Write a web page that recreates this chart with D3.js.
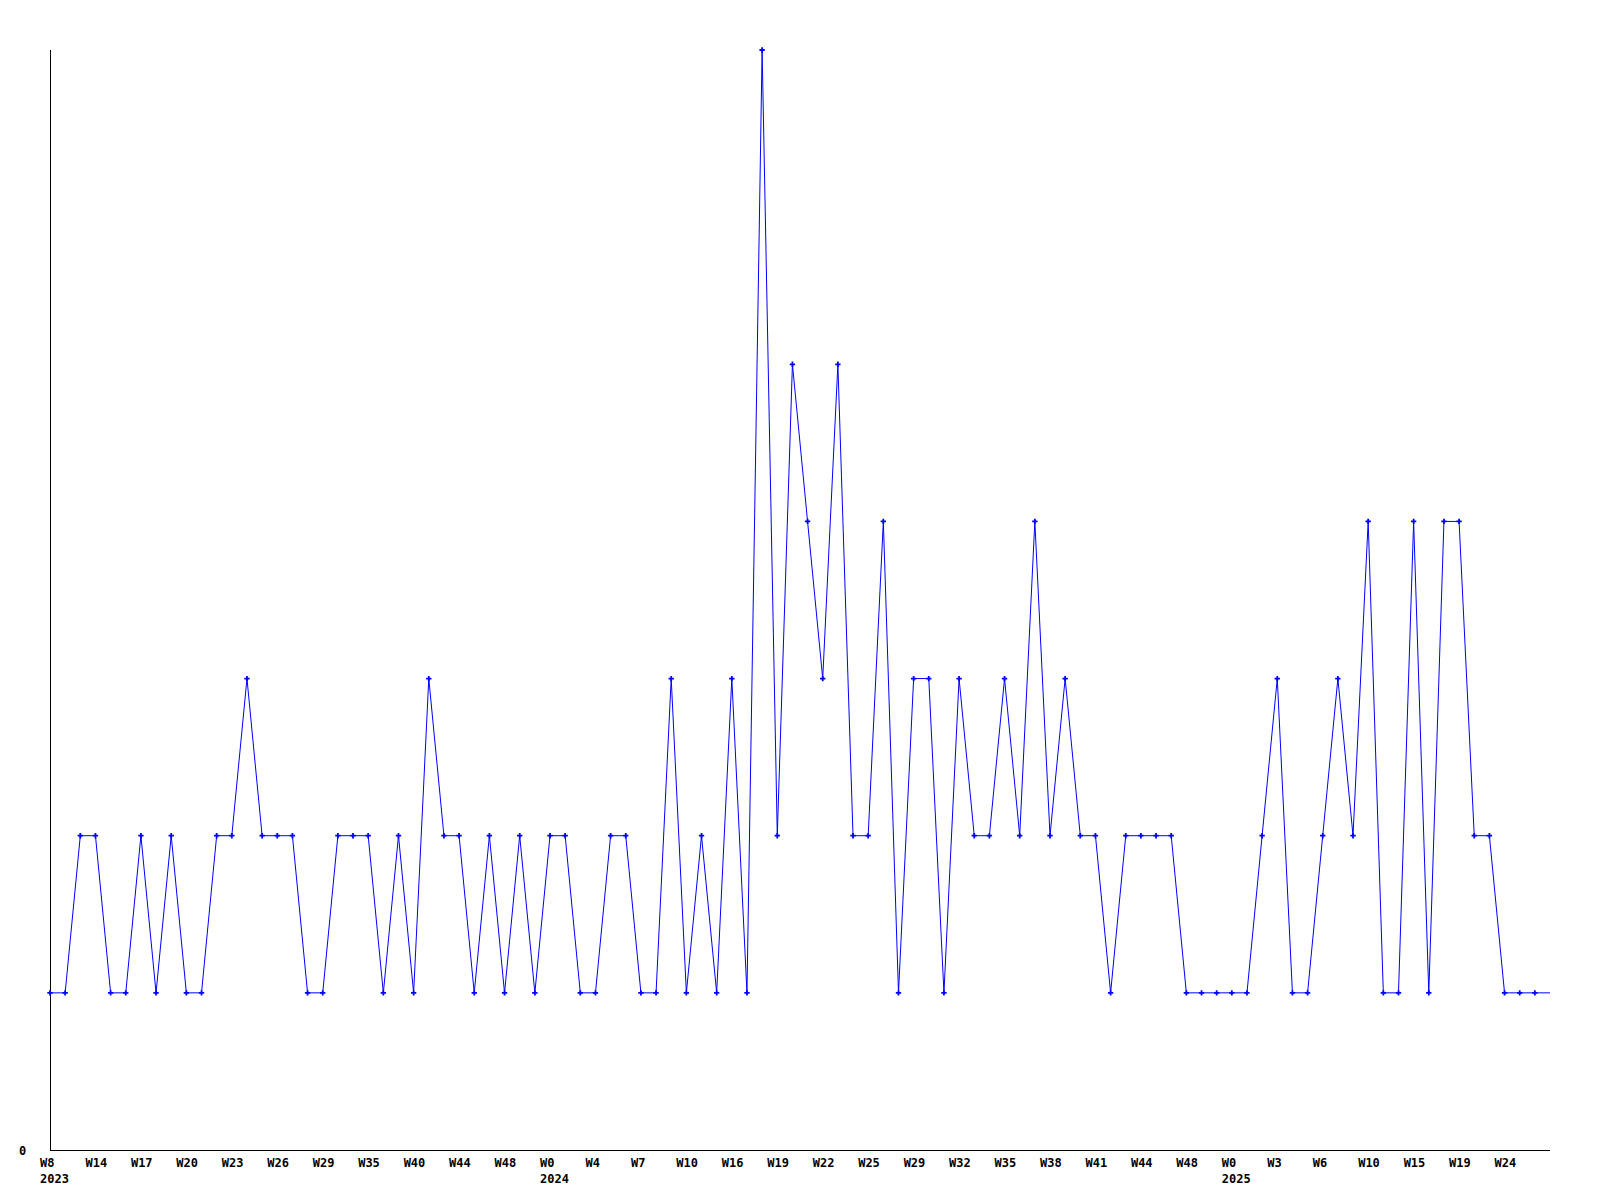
<!DOCTYPE html>
<html lang="en">

<head>
    <meta charset="UTF-8">
    <script src="https://d3js.org/d3.v7.min.js"></script>
    <title>weekly_line</title>
    <style>
        body { margin: 0; background: #fff; }
        text { font-family: "DejaVu Sans Mono", monospace; font-weight: bold; font-size: 12px; fill: #000; }
    </style>
</head>

<body>
    <script>
        var w = 1600,
            h = 1200;

        // one value per week (100 points)
        var values = [1, 1, 2, 2, 1, 1, 2, 1, 2, 1,
            1, 2, 2, 3, 2, 2, 2, 1, 1, 2,
            2, 2, 1, 2, 1, 3, 2, 2, 1, 2,
            1, 2, 1, 2, 2, 1, 1, 2, 2, 1,
            1, 3, 1, 2, 1, 3, 1, 7, 2, 5,
            4, 3, 5, 2, 2, 4, 1, 3, 3, 1,
            3, 2, 2, 3, 2, 4, 2, 3, 2, 2,
            1, 2, 2, 2, 2, 1, 1, 1, 1, 1,
            2, 3, 1, 1, 2, 3, 2, 4, 1, 1,
            4, 1, 4, 4, 2, 2, 1, 1, 1, 1];

        // a label on every 3rd point
        var tickLabels = ["W8", "W14", "W17", "W20", "W23", "W26", "W29", "W35", "W40", "W44", "W48",
            "W0", "W4", "W7", "W10", "W16", "W19", "W22", "W25", "W29", "W32", "W35", "W38", "W41", "W44", "W48",
            "W0", "W3", "W6", "W10", "W15", "W19", "W24"];
        var tickStep = 3;
        var years = ["2023", "2024", "2025"];
        var yearAt = [0, 11, 26]; // index into tickLabels

        var svg = d3.select("body").append("svg").attr("width", w).attr("height", h);

        var x = d3.scaleLinear().domain([0, values.length - 1]).range([50, 1550]);
        var y = d3.scaleLinear().domain([0, 7]).range([1150, 50]);

        // axes
        svg.append("line").attr("x1", x(0)).attr("x2", x(0)).attr("y1", y(7)).attr("y2", y(0))
            .attr("stroke", "#000").attr("shape-rendering", "crispEdges");
        svg.append("line").attr("x1", x(0)).attr("x2", x(values.length - 1)).attr("y1", y(0)).attr("y2", y(0))
            .attr("stroke", "#000").attr("shape-rendering", "crispEdges");

        svg.append("text").attr("x", 19).attr("y", y(0) + 5).text("0");

        svg.selectAll("text.tick").data(tickLabels).enter().append("text")
            .attr("class", "tick")
            .attr("x", function(d, i) { return x(i * tickStep) - 10; })
            .attr("y", 1167)
            .text(function(d) { return d; });

        svg.selectAll("text.year").data(years).enter().append("text")
            .attr("class", "year")
            .attr("x", function(d, i) { return x(yearAt[i] * tickStep) - 10; })
            .attr("y", 1183)
            .text(function(d) { return d; });

        // line
        var line = d3.line()
            .x(function(d, i) { return x(i); })
            .y(function(d) { return y(d); });

        svg.append("path").datum(values)
            .attr("d", line)
            .attr("fill", "none")
            .attr("stroke", "#0000ff")
            .attr("stroke-width", 1);

        // markers (the last point has none in the original)
        svg.selectAll("path.pt").data(values.slice(0, -1)).enter().append("path")
            .attr("class", "pt")
            .attr("d", d3.symbol(d3.symbolCross).size(16))
            .attr("transform", function(d, i) { return "translate(" + x(i) + "," + y(d) + ")"; })
            .attr("fill", "#0000ff");
    </script>
</body>

</html>
